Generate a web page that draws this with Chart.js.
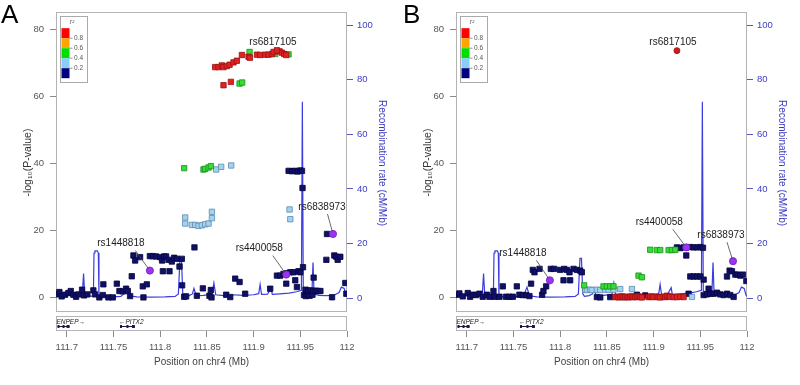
<!DOCTYPE html>
<html><head><meta charset="utf-8">
<script src="https://cdn.jsdelivr.net/npm/chart.js@4.4.1/dist/chart.umd.min.js"></script>
<style>
html,body{margin:0;padding:0;background:#fff;}
#wrap{position:relative;width:800px;height:385px;overflow:hidden;}
.panel{position:absolute;top:0;width:400px;height:385px;}
.tag{position:absolute;top:1px;font-family:'Liberation Sans',Arial,sans-serif;font-size:26px;line-height:26px;color:#000;}
</style></head><body>
<div id="wrap">
 <div class="panel" style="left:0"><canvas id="cA" width="400" height="385"></canvas><div class="tag" style="left:1px">A</div></div>
 <div class="panel" style="left:400px"><canvas id="cB" width="400" height="385"></canvas><div class="tag" style="left:3px">B</div></div>
</div>
<script>
// ---------- axes ----------
const xTicks = [111.7, 111.75, 111.8, 111.85, 111.9, 111.95, 112];
const yTicks = [0, 20, 40, 60, 80];
const recombTicks = [0, 20, 40, 60, 80, 100];
const r2Labels = ['0.8', '0.6', '0.4', '0.2'];

// ---------- recombination rate (cM/Mb) ----------
const recombPos = [111.6885,111.692,111.697,111.703,111.709,111.714,111.7168,111.718,111.7192,111.724,
  111.7285,111.7292,111.7302,111.7328,111.7338,111.7345,111.742,111.75,111.758,111.762,
  111.7645,111.767,111.775,111.79,111.805,111.816,111.8195,111.8212,111.8228,111.8242,
  111.826,111.831,111.8345,111.8362,111.8385,111.846,111.8555,111.8575,111.8595,111.868,
  111.878,111.889,111.9,111.9055,111.907,111.9085,111.915,111.9188,111.92,111.928,
  111.938,111.946,111.9512,111.9522,111.9532,111.958,111.9625,111.9636,111.9648,111.97,
  111.978,111.986,111.9915,111.994,111.997,111.9988,112.0];
const recombRate = [0.8,1.2,0.6,1.0,0.7,1.3,2.0,9.0,1.5,0.8,
  0.6,16.5,17.3,17.3,16.5,0.6,0.3,0.4,0.6,1.8,
  4.0,0.8,0.4,0.3,0.4,0.6,1.5,14.5,14.5,1.5,
  0.6,0.9,1.5,3.5,0.9,1.0,1.3,5.5,1.2,0.9,
  1.2,1.0,1.2,1.6,5.0,1.3,1.4,3.8,1.3,1.5,
  1.8,2.3,2.8,72.0,2.5,2.0,2.2,13.0,1.5,1.0,
  0.9,1.0,2.0,4.0,3.5,1.2,0.6];

// ---------- genes ----------
const geneNames = ['ENPEP', 'PITX2'];
const geneStart = [111.6885, 111.757];
const geneEnd = [111.703, 111.773];
const geneStrand = ['+', '-'];

// ---------- SNP names ----------
const leadSnp = 'rs6817105';
const indexSnps = ['rs1448818', 'rs4400058', 'rs6838973'];

// ---------- Panel A: [position Mb, -log10 P] ----------
const aNavy = [[111.6893,1.0],[111.6921,1.7],[111.6946,0.4],[111.6982,0.9],[111.7017,1.4],[111.7043,2.0],[111.7071,0.9],[111.7100,0.3],[111.7129,1.0],[111.7164,2.4],[111.7185,0.7],[111.7221,1.0],[111.7285,2.2],[111.7303,1.0],[111.7349,0.1],[111.7386,0.8],[111.7392,4.0],[111.7446,0.1],[111.7493,0.1],[111.7536,4.2],[111.7564,2.0],[111.7600,1.9],[111.7635,2.7],[111.7654,2.0],[111.7678,0.5],[111.7696,6.4],[111.7714,12.6],[111.7732,11.1],[111.7785,12.1],[111.7814,3.4],[111.7821,0.1],[111.7857,4.0],[111.7890,12.4],[111.7921,12.4],[111.7955,12.3],[111.8000,12.1],[111.8021,11.1],[111.8029,7.9],[111.8043,12.3],[111.8064,12.3],[111.8089,11.3],[111.8100,7.9],[111.8125,10.8],[111.8150,11.9],[111.8179,11.6],[111.8207,9.3],[111.8232,11.6],[111.8235,3.7],[111.8257,0.3],[111.8278,0.4],[111.8367,15.0],[111.8393,0.6],[111.8457,2.8],[111.8528,0.6],[111.8543,2.3],[111.8550,0.1],[111.8707,0.9],[111.8750,0.2],[111.8803,5.7],[111.8850,4.7],[111.8910,1.2],[111.9178,2.7],[111.9250,6.6],[111.9285,6.6],[111.9320,7.1],[111.9357,7.3],[111.9393,7.6],[111.9428,7.6],[111.9481,7.9],[111.9500,7.6],[111.9350,4.2],[111.9446,5.2],[111.9464,3.2],[111.9529,9.1],[111.9375,37.8],[111.9410,37.7],[111.9440,37.8],[111.9470,37.6],[111.9500,37.9],[111.9518,37.8],[111.9524,32.7],[111.9540,0.8],[111.9556,2.4],[111.9560,0.5],[111.9580,1.0],[111.9585,2.1],[111.9600,0.6],[111.9610,2.2],[111.9630,0.9],[111.9640,2.0],[111.9643,6.0],[111.9665,2.1],[111.9690,2.0],[111.9715,2.0],[111.9779,11.3],[111.9786,19.0],[111.9840,0.15],[111.9864,12.6],[111.9886,12.2],[111.9900,11.3],[111.9928,12.2],[111.9982,4.4],[111.9993,1.2]];
const aLightBlue = [[111.8268,23.9],[111.8268,22.1],[111.8339,21.7],[111.8375,21.7],[111.8410,21.4],[111.8446,21.6],[111.8482,21.9],[111.8518,22.1],[111.8554,23.7],[111.8554,25.6],[111.8600,38.2],[111.8653,39.0],[111.8760,39.4],[111.9385,26.3],[111.9393,23.4]];
const aGreen = [[111.8257,38.6],[111.8464,38.2],[111.8482,38.4],[111.8518,38.8],[111.8543,39.2],[111.8850,63.8],[111.8878,64.1],[111.8957,73.2],[111.9232,72.6],[111.9374,72.5]];
const aRed = [[111.8589,68.7],[111.8624,68.7],[111.8660,69.2],[111.8678,68.7],[111.8714,69.0],[111.8743,69.4],[111.8785,70.1],[111.8821,70.6],[111.8875,72.3],[111.8946,71.8],[111.8960,71.5],[111.9036,72.4],[111.9071,72.3],[111.9125,72.4],[111.9160,72.4],[111.9196,72.6],[111.9214,73.2],[111.9278,73.4],[111.9303,73.0],[111.9328,72.6],[111.9350,72.3],[111.8678,63.3],[111.8757,64.3]];
const aLead = [111.925, 73.7];
const aIndex = [[111.789,8.1],[111.935,6.9],[111.985,19.0]];

// ---------- Panel B ----------
const bNavy = [[111.6893,0.9],[111.6921,1.3],[111.6957,0.4],[111.7011,1.4],[111.7036,0.3],[111.7071,0.9],[111.7100,0.8],[111.7136,1.2],[111.7171,0.3],[111.7214,0.9],[111.7243,0.3],[111.7286,2.0],[111.7296,0.3],[111.7350,0.3],[111.7386,3.4],[111.7421,0.3],[111.7457,0.3],[111.7493,0.3],[111.7536,3.4],[111.7564,0.9],[111.7600,0.8],[111.7636,0.8],[111.7671,0.5],[111.7689,4.2],[111.7707,8.3],[111.7725,7.6],[111.7779,8.6],[111.7807,0.9],[111.7821,2.0],[111.7850,3.4],[111.7900,8.6],[111.7936,8.6],[111.8000,8.3],[111.8036,5.2],[111.8043,8.6],[111.8071,8.3],[111.8100,7.6],[111.8107,5.2],[111.8143,8.6],[111.8179,8.3],[111.8214,8.1],[111.8232,7.6],[111.8393,0.2],[111.8429,0.1],[111.8536,0.2],[111.8679,0.2],[111.8821,0.9],[111.8911,0.7],[111.9250,15.0],[111.9286,14.8],[111.9321,15.0],[111.9393,15.1],[111.9428,15.0],[111.9464,15.0],[111.9500,15.1],[111.9529,14.9],[111.9350,12.6],[111.9393,6.35],[111.9428,6.35],[111.9464,6.35],[111.9500,6.35],[111.9536,5.4],[111.9375,1.2],[111.9589,2.7],[111.9536,0.8],[111.9571,1.0],[111.9607,1.2],[111.9643,1.2],[111.9679,1.5],[111.9714,1.0],[111.9750,0.8],[111.9786,1.2],[111.9821,0.8],[111.9857,0.25],[111.9786,6.35],[111.9814,8.1],[111.9839,7.9],[111.9875,6.9],[111.9900,6.9],[111.9929,6.6],[111.9957,6.9],[111.9993,5.0]];
const bLightBlue = [[111.8267,2.4],[111.8286,2.3],[111.8321,2.4],[111.8339,2.3],[111.8393,2.4],[111.8429,2.3],[111.8482,2.4],[111.8518,2.4],[111.8571,2.4],[111.8643,2.6],[111.8768,2.6],[111.9411,0.25]];
const bGreen = [[111.8257,3.7],[111.8464,3.4],[111.8500,3.4],[111.8536,3.4],[111.8571,3.4],[111.8839,6.6],[111.8875,6.1],[111.8964,14.3],[111.9036,14.2],[111.9071,14.2],[111.9161,14.2],[111.9196,14.2],[111.9232,14.3]];
const bRed = [[111.8589,0.2],[111.8607,0.3],[111.8625,0.1],[111.8643,0.3],[111.8660,0.4],[111.8678,0.2],[111.8696,0.2],[111.8714,0.3],[111.8732,0.1],[111.8750,0.3],[111.8768,0.4],[111.8786,0.2],[111.8803,0.2],[111.8821,0.3],[111.8839,0.4],[111.8857,0.2],[111.8875,0.1],[111.8946,0.2],[111.8964,0.3],[111.8982,0.4],[111.9000,0.2],[111.9036,0.3],[111.9054,0.2],[111.9071,0.1],[111.9107,0.3],[111.9125,0.2],[111.9143,0.6],[111.9161,0.4],[111.9178,0.3],[111.9214,0.2],[111.9250,0.2],[111.9286,0.3],[111.9321,0.2]];
const bLead = [111.925, 73.6];
const bIndex = [[111.789,5.2],[111.935,15.0],[111.985,10.9]];

// ---------- styles ----------
const FONT = "'Liberation Sans', Arial, Helvetica, sans-serif";
const NB = '\u00a0\u00a0\u00a0\u00a0\u00a0\u00a0';
const C = {
  navy: ['#10106a', '#06063c'], lightblue: ['#a3d2ee', '#5d8cae'], green: ['#35dd35', '#1d8f1d'],
  red: ['#e02222', '#9a1212'], purple: ['#9a34f2', '#7420c0'], recomb: '#3c3ce0',
  legend: ['#ff0000', '#ffa500', '#00e000', '#87cefa', '#000080']
};

const pts = arr => arr.map(p => ({x: p[0], y: p[1]}));
const sq = (data, col) => ({type:'scatter', data: pts(data), yAxisID:'y', pointStyle:'rect', pointRadius:3.8,
  backgroundColor: col[0], borderColor: col[1], borderWidth: 0.8});

const lzPlugin = {
  id: 'lz',
  beforeDatasetsDraw(chart) {
    const {ctx, chartArea: ca, scales} = chart;
    const x = scales.x;
    ctx.save();
    ctx.strokeStyle = '#b4b4b4'; ctx.lineWidth = 1;
    const plotBottom = ca.bottom - 20;
    ctx.strokeRect(Math.round(ca.left) + 0.5, Math.round(ca.top) + 0.5, Math.round(ca.width) - 1, Math.round(plotBottom - ca.top));
    ctx.strokeRect(Math.round(ca.left) + 0.5, Math.round(ca.bottom) - 14.5, Math.round(ca.width) - 1, 14);
    // genes
    for (let i = 0; i < geneNames.length; i++) {
      const x1 = Math.max(x.getPixelForValue(geneStart[i]), ca.left + 1.5);
      const x2 = x.getPixelForValue(geneEnd[i]);
      const gy = ca.bottom - 5;
      ctx.strokeStyle = '#1a1a50'; ctx.lineWidth = 1;
      ctx.beginPath(); ctx.moveTo(x1, gy + 0.5); ctx.lineTo(x2, gy + 0.5); ctx.stroke();
      ctx.fillStyle = '#1a1a50';
      ctx.fillRect(x1, gy - 1, 2, 3);
      ctx.fillRect(x2 - 3, gy - 1, 3, 3);
      ctx.fillRect((x1 + x2) / 2 - 1, gy - 1, 2, 3);
      ctx.font = `italic 6.5px ${FONT}`;
      ctx.fillStyle = '#222'; ctx.textAlign = 'left'; ctx.textBaseline = 'middle';
      const txt = geneStrand[i] === '+' ? geneNames[i] + '\u2192' : '\u2190' + geneNames[i];
      ctx.fillText(txt, x1 - 1, ca.bottom - 9);
    }
    ctx.restore();
  },
  afterDatasetsDraw(chart, args, opts) {
    const {ctx, chartArea: ca, scales} = chart;
    const x = scales.x, y = scales.y;
    ctx.save();
    // SNP labels
    ctx.font = `10px ${FONT}`;
    ctx.textAlign = 'center'; ctx.textBaseline = 'middle';
    (opts.labels || []).forEach(l => {
      const px = x.getPixelForValue(l.pos), py = y.getPixelForValue(l.logP);
      const lx = px + l.dx, ly = py + l.dy;
      ctx.fillStyle = '#222';
      ctx.fillText(l.snp, lx, ly);
      if (l.line) {
        const sx = lx - l.dx * 0.5, sy = ly + 7;
        const ang = Math.atan2(py - sy, px - sx);
        ctx.strokeStyle = '#444'; ctx.lineWidth = 0.8;
        ctx.beginPath(); ctx.moveTo(sx, sy);
        ctx.lineTo(px - Math.cos(ang) * 2.5, py - Math.sin(ang) * 2.5); ctx.stroke();
      }
    });
    // r2 legend
    const lx = ca.left + 4, ly = ca.top + 4;
    ctx.fillStyle = '#fff'; ctx.fillRect(lx, ly, 27, 66);
    ctx.strokeStyle = '#aaa'; ctx.lineWidth = 1; ctx.strokeRect(Math.round(lx) + 0.5, Math.round(ly) + 0.5, 27, 66);
    C.legend.forEach((c, i) => { ctx.fillStyle = c; ctx.fillRect(lx + 1.5, ly + 12.5 + i * 10, 8, 10); });
    ctx.strokeStyle = '#666'; ctx.lineWidth = 0.7;
    ctx.font = `6.5px ${FONT}`; ctx.fillStyle = '#555'; ctx.textAlign = 'left'; ctx.textBaseline = 'middle';
    r2Labels.forEach((t, i) => {
      const yy = ly + 22.5 + i * 10;
      ctx.beginPath(); ctx.moveTo(lx + 9.5, yy); ctx.lineTo(lx + 12.5, yy); ctx.stroke();
      ctx.fillText(t, lx + 14, yy);
    });
    ctx.font = `italic 6.5px ${FONT}`; ctx.textAlign = 'center';
    ctx.fillText('r\u00b2', lx + 12, ly + 6);
    ctx.restore();
  }
};

function makeChart(id, d) {
  const datasets = [
    {type:'scatter', data: pts(d.index), yAxisID:'y', pointStyle:'circle', pointRadius:3.6,
      backgroundColor: C.purple[0], borderColor: C.purple[1], borderWidth: 0.8},
    d.leadDot ? {type:'scatter', data: pts([d.lead]), yAxisID:'y', pointStyle:'circle', pointRadius:3,
      backgroundColor: '#c81e1e', borderColor: '#9a1212', borderWidth: 0.8} : sq([d.lead], C.red),
    sq(d.red, C.red), sq(d.green, C.green), sq(d.lightblue, C.lightblue), sq(d.navy, C.navy),
    {type:'line', data: recombPos.map((p, i) => ({x: p, y: recombRate[i]})), yAxisID:'y2',
      borderColor: C.recomb, borderWidth: 1.2, pointRadius: 0, fill: false, tension: 0}
  ];
  const tickGrid = {display:true, drawOnChartArea:false, drawTicks:true, tickLength:6, color:'#8a8a8a'};
  const labels = [
    {snp: leadSnp, pos: d.lead[0], logP: d.lead[1], dx: -4, dy: -8, line: false},
    {snp: indexSnps[0], pos: d.index[0][0], logP: d.index[0][1], dx: d.off[0][0], dy: d.off[0][1], line: true},
    {snp: indexSnps[1], pos: d.index[1][0], logP: d.index[1][1], dx: d.off[1][0], dy: d.off[1][1], line: true},
    {snp: indexSnps[2], pos: d.index[2][0], logP: d.index[2][1], dx: d.off[2][0], dy: d.off[2][1], line: true}
  ];
  return new Chart(document.getElementById(id), {
    data: {datasets},
    options: {
      responsive: false, animation: false, devicePixelRatio: 1,
      layout: {padding: {top: 9, left: 0, right: 0, bottom: 0}},
      plugins: {legend: {display: false}, tooltip: {enabled: false}, lz: {labels}},
      scales: {
        x: {type:'linear', position:'bottom', min: 111.6885, max: 112.0,
          afterBuildTicks: s => { s.ticks = xTicks.map(v => ({value: v})); },
          afterFit: s => { s.height = 54; },
          grid: tickGrid, border: {display: false},
          ticks: {padding: 5, color: '#555', font: {size: 9.5, family: FONT}, maxRotation: 0, autoSkip: false,
            callback: v => String(v)},
          title: {display: true, text: 'Position on chr4 (Mb)', color: '#444', font: {size: 10, family: FONT},
            padding: {top: 0, bottom: 17}}},
        y: {type:'linear', position:'left', min: -9.9, max: 85.2,
          afterBuildTicks: s => { s.ticks = yTicks.map(v => ({value: v})); },
          afterFit: s => { s.width = 56; },
          grid: tickGrid, border: {display: false},
          ticks: {padding: 6, color: '#555', font: {size: 9.5, family: FONT}},
          title: {display: true, text: NB + '-log\u2081\u2080(P-value)', color: '#333', font: {size: 10.5, family: FONT},
            padding: {top: 22, bottom: 0}}},
        y2: {type:'linear', position:'right', min: -12.1, max: 105,
          afterBuildTicks: s => { s.ticks = recombTicks.map(v => ({value: v})); },
          afterFit: s => { s.width = 53; },
          grid: {display:true, drawOnChartArea:false, drawTicks:true, tickLength:6, color:'#5555cc'}, border: {display: false},
          ticks: {padding: 4, color: '#3b3bc4', font: {size: 9.5, family: FONT}},
          title: {display: true, text: 'Recombination rate (cM/Mb)' + NB, color: '#3b3bc4', font: {size: 10, family: FONT},
            padding: {top: 12, bottom: 0}}}
      }
    },
    plugins: [lzPlugin]
  });
}

makeChart('cA', {navy: aNavy, lightblue: aLightBlue, green: aGreen, red: aRed, lead: aLead, leadDot: false, index: aIndex,
  off: [[-29, -27], [-27, -26], [-11, -27]]});
makeChart('cB', {navy: bNavy, lightblue: bLightBlue, green: bGreen, red: bRed, lead: bLead, leadDot: true, index: bIndex,
  off: [[-27, -27], [-27, -25], [-12, -26]]});
</script></body></html>
